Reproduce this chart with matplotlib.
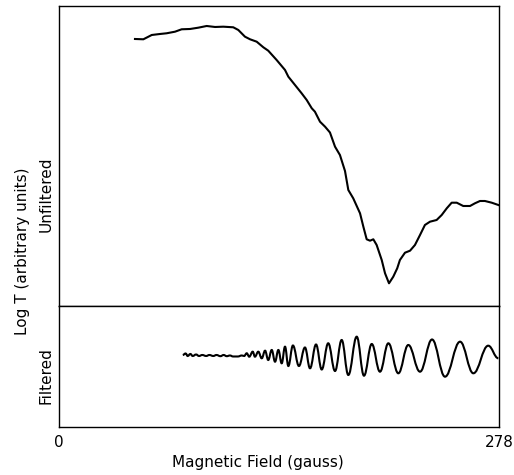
import numpy as np
import matplotlib
matplotlib.use("Agg")
import matplotlib.pyplot as plt
from matplotlib.path import Path
from matplotlib.patches import PathPatch

# unfiltered trace (field in gauss, log T in arbitrary units)
field_unf = [48.0, 53.3, 58.6, 63.8, 68.0, 73.3, 77.5, 82.8, 88.0, 93.3, 98.6, 103.8,
             110.1, 113.3, 117.5, 120.7, 124.9, 129.1, 132.2, 137.5, 142.8, 144.9,
             149.1, 153.3, 156.5, 159.7, 161.7, 164.9, 168.1, 171.2, 174.4, 177.5,
             180.7, 182.8, 185.9, 190.2, 192.3, 194.4, 196.5, 198.6, 200.7, 203.9,
             206.0, 208.5, 211.2, 213.7, 215.4, 218.6, 221.8, 224.9, 228.1, 231.2,
             234.4, 238.6, 241.8, 245.0, 248.1, 251.3, 255.4, 259.7, 262.8, 266.0,
             269.1, 273.4, 277.6]
logT_unf = [267, 266.7, 271, 272, 272.7, 274.3, 276.7, 277, 278.3, 280, 279, 279.3,
            278.7, 276, 269.3, 266.7, 264.3, 258.7, 255.3, 246, 236, 229.3,
            221, 212.7, 206, 197.7, 194.3, 184.3, 179.3, 173.5, 159.3, 151,
            135, 116, 107.7, 92.7, 79.3, 66.7, 65.3, 66.7, 61, 46,
            32.7, 22.7, 29.3, 37.7, 46, 53.3, 55.3, 61, 71, 81,
            84.3, 86, 91, 97.7, 103.3, 103.3, 100, 100, 102.7, 105,
            105, 103.3, 101]

# filtered trace: turning points
field_filt = [78.2, 80.0, 81.3, 83.0, 84.5, 86.6, 88.5, 90.5, 93.0, 95.0, 97.5, 99.5,
              102.0, 104.0, 106.0, 108.0, 110.0, 113.0, 115.5, 117.0,
              118.6, 120.2, 122.4, 123.8, 125.9, 128.1, 130.2, 132.2, 134.4, 136.5,
              138.6, 140.7, 142.8, 144.9, 147.8, 151.6, 155.4, 158.6, 162.4, 166.0,
              170.1, 174.4, 178.6, 182.8, 188.1, 192.7, 197.6, 202.8, 208.1, 214.4,
              220.7, 228.1, 235.7, 243.9, 253.4, 261.8, 271.2, 277.6]
logT_filt = [2, 3.5, 1, 3, 1, 2.5, 1, 2, 1, 2, 1, 2,
             0.8, 2, 0.8, 1.5, 0.5, 0.5, 1.5, 1,
             3.7, 0.3, 5.3, 0.3, 5.3, -1.3, 6.3, -3, 7, -4.7,
             7, -6.3, 10.3, -9, 11.5, -9, 9.5, -11.3, 12.5, -12.5,
             13.7, -14, 17, -18, 20.3, -18.7, 13, -14.7, 13.7, -16.3,
             12, -14.7, 17.5, -19.7, 15.3, -16.3, 11.3, -1.3]

x_ticks = [0, 278]


def smooth_path(x, y, k=0.4):
    # cubic bezier through the turning points, flat tangent at each one
    verts = [(x[0], y[0])]
    codes = [Path.MOVETO]
    for i in range(1, len(x)):
        dx = x[i] - x[i - 1]
        verts += [(x[i - 1] + k * dx, y[i - 1]), (x[i] - k * dx, y[i]), (x[i], y[i])]
        codes += [Path.CURVE4] * 3
    return Path(verts, codes)


fig = plt.figure(figsize=(5.14, 4.75), dpi=100)
ax1 = fig.add_axes([0.1148, 0.3558, 0.856, 0.6316])
ax2 = fig.add_axes([0.1148, 0.1011, 0.856, 0.2547], sharex=ax1)

ax1.plot(field_unf, logT_unf, color="black", lw=1.5)
ax1.set_ylim(0, 300)

ax2.add_patch(PathPatch(smooth_path(field_filt, logT_filt), facecolor="none",
                        edgecolor="black", lw=1.5))
ax2.set_ylim(-70, 51)
ax2.set_xlim(0, 278)

for ax in (ax1, ax2):
    ax.set_yticks([])
    for s in ax.spines.values():
        s.set_linewidth(1.0)
ax1.tick_params(axis="x", length=0, labelbottom=False)
ax2.set_xticks(x_ticks)
ax2.set_xticklabels([str(t) for t in x_ticks], fontsize=11)
ax2.tick_params(axis="x", length=0, pad=6)

fig.text(0.502, 0.027, "Magnetic Field (gauss)", fontsize=11, ha="center", va="center")
fig.text(0.043, 0.4716, "Log T (arbitrary units)", fontsize=11, rotation=90,
         ha="center", va="center")
fig.text(0.0895, 0.5916, "Unfiltered", fontsize=11, rotation=90, ha="center", va="center")
fig.text(0.0895, 0.2084, "Filtered", fontsize=11, rotation=90, ha="center", va="center")

fig.savefig("out.png", dpi=100)
